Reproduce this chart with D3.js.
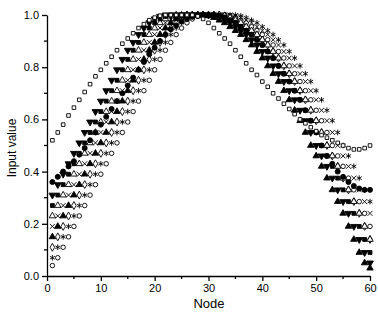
<!DOCTYPE html>
<html>
<head>
<meta charset="utf-8">
<script src="https://cdn.jsdelivr.net/npm/d3@7"></script>
<style>
  body { margin: 0; background: #fff; }
  svg { display: block; }
  .axis text { font-family: "Liberation Sans", Arial, sans-serif; font-size: 11px; fill: #000; }
  .axis path, .axis line { stroke: #000; stroke-width: 1.3; }
  .lbl { font-family: "Liberation Sans", Arial, sans-serif; fill: #000; }
</style>
</head>
<body>
<div id="chart"></div>
<script>
// ---------------------------------------
// data (node 1..60)
const nodes = d3.range(1, 61);

const squaresOpen = [0.52, 0.55, 0.58, 0.615, 0.645, 0.675, 0.705, 0.735, 0.765, 0.79,
  0.815, 0.84, 0.865, 0.89, 0.91, 0.93, 0.95, 0.965, 0.98, 0.99,
  0.997, 1.0, 1.0, 1.0, 1.0, 1.0, 1.0, 0.995, 0.985, 0.97,
  0.95, 0.93, 0.91, 0.89, 0.865, 0.84, 0.815, 0.79, 0.77, 0.745,
  0.725, 0.70, 0.68, 0.66, 0.64, 0.62, 0.60, 0.585, 0.57, 0.555,
  0.54, 0.53, 0.52, 0.51, 0.50, 0.49, 0.485, 0.485, 0.49, 0.50];

const circlesFilled = [0.36, 0.38, 0.40, 0.42, 0.44, 0.465, 0.49, 0.52, 0.55, 0.58,
  0.61, 0.64, 0.67, 0.70, 0.73, 0.76, 0.79, 0.82, 0.85, 0.875,
  0.90, 0.925, 0.945, 0.96, 0.975, 0.985, 0.993, 1.0, 1.0, 1.0,
  1.0, 0.997, 0.99, 0.98, 0.97, 0.955, 0.94, 0.925, 0.905, 0.885,
  0.86, 0.835, 0.805, 0.775, 0.745, 0.71, 0.675, 0.635, 0.595, 0.55,
  0.50, 0.46, 0.43, 0.40, 0.38, 0.36, 0.345, 0.335, 0.33, 0.33];

const triDownFilled = [0.31, 0.35, 0.39, 0.43, 0.47, 0.51, 0.55, 0.59, 0.63, 0.67,
  0.71, 0.75, 0.79, 0.83, 0.865, 0.895, 0.925, 0.95, 0.97, 0.985,
  0.995, 1.0, 1.0, 1.0, 1.0, 1.0, 1.0, 1.0, 1.0, 1.0,
  0.997, 0.99, 0.98, 0.97, 0.955, 0.94, 0.925, 0.905, 0.885, 0.86,
  0.835, 0.805, 0.775, 0.745, 0.71, 0.675, 0.635, 0.595, 0.55, 0.50,
  0.46, 0.42, 0.375, 0.33, 0.285, 0.24, 0.19, 0.14, 0.09, 0.05];

const triUpOpen = [0.23, 0.27, 0.31, 0.35, 0.39, 0.43, 0.47, 0.51, 0.55, 0.59,
  0.63, 0.67, 0.71, 0.75, 0.79, 0.83, 0.865, 0.895, 0.925, 0.95,
  0.97, 0.985, 0.995, 1.0, 1.0, 1.0, 1.0, 1.0, 1.0, 1.0,
  1.0, 1.0, 0.997, 0.99, 0.98, 0.97, 0.955, 0.94, 0.925, 0.905,
  0.885, 0.86, 0.835, 0.805, 0.775, 0.745, 0.71, 0.675, 0.635, 0.595,
  0.55, 0.50, 0.46, 0.42, 0.375, 0.33, 0.285, 0.24, 0.19, 0.14];

const triUpFilled = [0.15, 0.19, 0.23, 0.27, 0.31, 0.35, 0.39, 0.43, 0.47, 0.51,
  0.55, 0.59, 0.63, 0.67, 0.71, 0.75, 0.79, 0.83, 0.865, 0.895,
  0.925, 0.95, 0.97, 0.985, 0.995, 1.0, 1.0, 1.0, 1.0, 0.997,
  0.99, 0.98, 0.97, 0.955, 0.94, 0.925, 0.905, 0.885, 0.86, 0.835,
  0.805, 0.775, 0.745, 0.71, 0.675, 0.635, 0.595, 0.55, 0.50, 0.46,
  0.42, 0.375, 0.33, 0.285, 0.24, 0.19, 0.14, 0.09, 0.05, 0.03];

const stars = [0.07, 0.11, 0.15, 0.19, 0.23, 0.27, 0.31, 0.35, 0.39, 0.43,
  0.47, 0.51, 0.55, 0.59, 0.63, 0.67, 0.71, 0.75, 0.79, 0.83,
  0.865, 0.895, 0.925, 0.95, 0.97, 0.985, 0.995, 1.0, 1.0, 1.0,
  1.0, 1.0, 1.0, 1.0, 1.0, 0.997, 0.99, 0.98, 0.97, 0.955,
  0.94, 0.925, 0.905, 0.885, 0.86, 0.835, 0.805, 0.775, 0.745, 0.71,
  0.675, 0.635, 0.595, 0.55, 0.50, 0.46, 0.42, 0.375, 0.33, 0.285];

const circlesOpen = [0.04, 0.07, 0.11, 0.15, 0.19, 0.23, 0.27, 0.31, 0.35, 0.39,
  0.43, 0.47, 0.51, 0.55, 0.59, 0.63, 0.67, 0.71, 0.75, 0.79,
  0.83, 0.865, 0.895, 0.925, 0.95, 0.97, 0.985, 0.995, 1.0, 1.0,
  1.0, 1.0, 1.0, 0.997, 0.99, 0.98, 0.97, 0.955, 0.94, 0.925,
  0.905, 0.885, 0.86, 0.835, 0.805, 0.775, 0.745, 0.71, 0.675, 0.635,
  0.595, 0.55, 0.50, 0.46, 0.42, 0.375, 0.33, 0.285, 0.24, 0.19];

const crosses = [0.19, 0.23, 0.27, 0.31, 0.35, 0.39, 0.43, 0.47, 0.51, 0.55,
  0.59, 0.63, 0.67, 0.71, 0.75, 0.79, 0.83, 0.865, 0.895, 0.925,
  0.95, 0.97, 0.985, 0.995, 1.0, 1.0, 1.0, 1.0, 1.0, 1.0,
  1.0, 1.0, 1.0, 1.0, 0.997, 0.99, 0.98, 0.97, 0.955, 0.94,
  0.925, 0.905, 0.885, 0.86, 0.835, 0.805, 0.775, 0.745, 0.71, 0.675,
  0.635, 0.595, 0.55, 0.50, 0.46, 0.42, 0.375, 0.33, 0.285, 0.24];

const squaresFilled = [0.27, 0.31, 0.35, 0.39, 0.43, 0.47, 0.51, 0.55, 0.59, 0.63,
  0.67, 0.71, 0.75, 0.79, 0.83, 0.865, 0.895, 0.925, 0.95, 0.97,
  0.985, 0.995, 1.0, 1.0, 1.0, 1.0, 1.0, 1.0, 1.0, 1.0,
  1.0, 0.997, 0.99, 0.98, 0.97, 0.955, 0.94, 0.925, 0.905, 0.885,
  0.86, 0.835, 0.805, 0.775, 0.745, 0.71, 0.675, 0.635, 0.595, 0.55,
  0.50, 0.46, 0.42, 0.375, 0.33, 0.285, 0.24, 0.19, 0.14, 0.09];

const diamondsOpen = [0.11, 0.15, 0.19, 0.23, 0.27, 0.31, 0.35, 0.39, 0.43, 0.47,
  0.51, 0.55, 0.59, 0.63, 0.67, 0.71, 0.75, 0.79, 0.83, 0.865,
  0.895, 0.925, 0.95, 0.97, 0.985, 0.995, 1.0, 1.0, 1.0, 1.0,
  1.0, 1.0, 0.997, 0.99, 0.98, 0.97, 0.955, 0.94, 0.925, 0.905,
  0.885, 0.86, 0.835, 0.805, 0.775, 0.745, 0.71, 0.675, 0.635, 0.595,
  0.55, 0.50, 0.46, 0.42, 0.375, 0.33, 0.285, 0.24, 0.19, 0.14];

const xTicks = [0, 10, 20, 30, 40, 50, 60];
const yTicks = [0.0, 0.2, 0.4, 0.6, 0.8, 1.0];

// series -> marker style (drawing order: first is at the bottom)
const series = [
  {values: diamondsOpen, type: d3.symbolDiamond, size: 18, fill: "#fff", rot: 0},
  {values: circlesOpen, type: d3.symbolCircle, size: 16, fill: "#fff", rot: 0},
  {values: crosses, type: d3.symbolTimes, size: 18, fill: "none", rot: 0},
  {values: stars, type: d3.symbolAsterisk, size: 22, fill: "none", rot: 0},
  {values: triUpOpen, type: d3.symbolTriangle, size: 18, fill: "#fff", rot: 0},
  {values: squaresFilled, type: d3.symbolSquare, size: 15, fill: "#000", rot: 0},
  {values: triUpFilled, type: d3.symbolTriangle, size: 18, fill: "#000", rot: 0},
  {values: triDownFilled, type: d3.symbolTriangle, size: 20, fill: "#000", rot: 180},
  {values: circlesFilled, type: d3.symbolCircle, size: 20, fill: "#000", rot: 0},
  {values: squaresOpen, type: d3.symbolSquare, size: 13, fill: "#fff", rot: 0}
];

// ---------------------------------------
// svg params
const W = 378;
const H = 321;

const svg = d3.select("#chart")
    .append("svg")
    .attr("width", W)
    .attr("height", H);

const x = d3.scaleLinear()
    .domain([0, 60])
    .range([47, 370]);

const y = d3.scaleLinear()
    .domain([0, 1])
    .range([276, 15]);

// ---------------------------------------
// markers
series.forEach(function(s) {
  const sym = d3.symbol().type(s.type).size(s.size);
  svg.append("g")
      .selectAll("path")
      .data(s.values)
      .enter()
      .append("path")
      .attr("d", sym)
      .attr("transform", function(d, i) {
        return "translate(" + x(nodes[i]) + "," + y(d) + ") rotate(" + s.rot + ")";
      })
      .attr("fill", s.fill)
      .attr("stroke", "#000")
      .attr("stroke-width", 0.9);
});

// ---------------------------------------
// axes
const xAxis = svg.append("g")
    .attr("class", "axis")
    .attr("transform", "translate(0," + y(0) + ")")
    .call(d3.axisBottom(x).tickValues(xTicks).tickSize(5).tickSizeOuter(0).tickPadding(3));

// minor ticks
xAxis.selectAll(".minor")
    .data([5, 15, 25, 35, 45, 55])
    .enter()
    .append("line")
    .attr("class", "minor")
    .attr("x1", (d) => x(d))
    .attr("x2", (d) => x(d))
    .attr("y1", 0)
    .attr("y2", 3);

const yAxis = svg.append("g")
    .attr("class", "axis")
    .attr("transform", "translate(" + x(0) + ",0)")
    .call(d3.axisLeft(y).tickValues(yTicks).tickFormat(d3.format(".1f")).tickSize(5).tickSizeOuter(0).tickPadding(3));

yAxis.selectAll(".minor")
    .data([0.1, 0.3, 0.5, 0.7, 0.9])
    .enter()
    .append("line")
    .attr("class", "minor")
    .attr("x1", 0)
    .attr("x2", -3)
    .attr("y1", (d) => y(d))
    .attr("y2", (d) => y(d));

// axis titles
svg.append("text")
    .attr("class", "lbl")
    .attr("x", 209)
    .attr("y", 308)
    .attr("text-anchor", "middle")
    .style("font-size", "13px")
    .text("Node");

svg.append("text")
    .attr("class", "lbl")
    .attr("transform", "translate(16,148) rotate(-90)")
    .attr("text-anchor", "middle")
    .style("font-size", "12px")
    .text("Input value");
</script>
</body>
</html>
